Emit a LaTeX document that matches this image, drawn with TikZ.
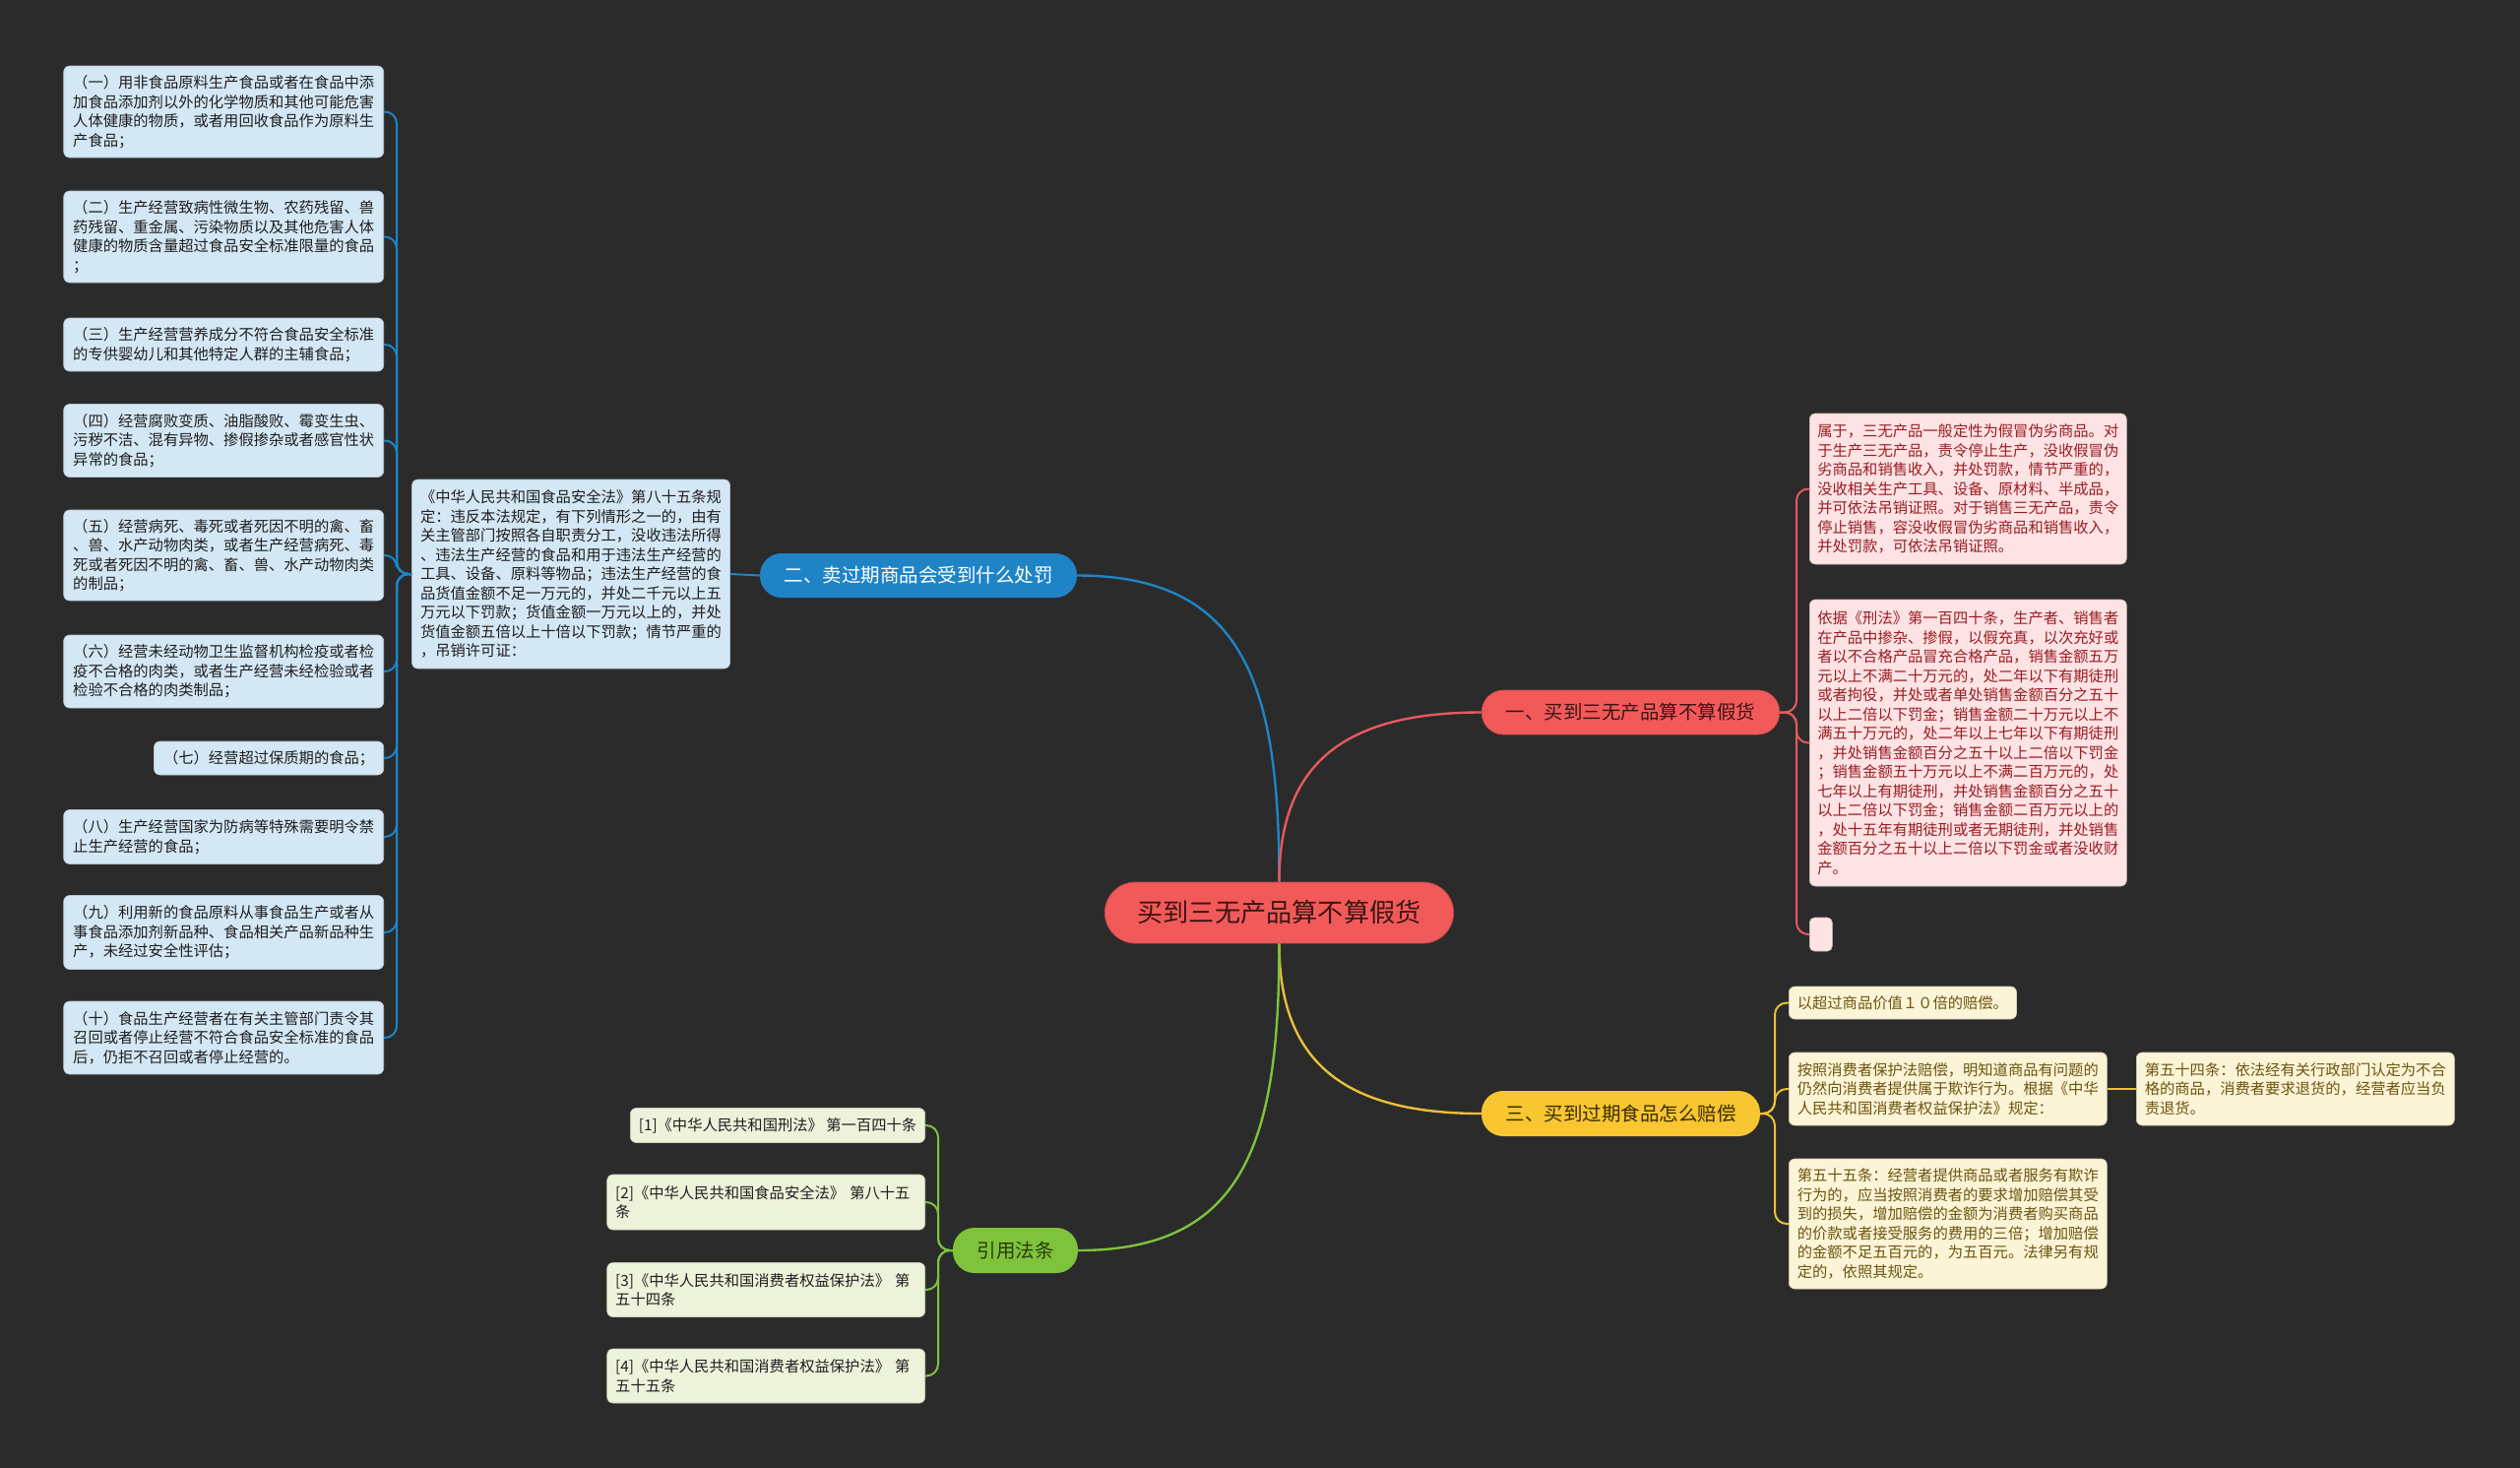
\documentclass[tikz,border=0pt]{standalone}
\usepackage{fontspec}
\setmainfont{Noto Sans CJK SC}
\definecolor{bg}{HTML}{2B2B2B}
\definecolor{cblue}{HTML}{1F84C6}
\definecolor{cbluefill}{HTML}{D4E7F5}
\definecolor{cred}{HTML}{F25A5A}
\definecolor{credline}{HTML}{E65A5E}
\definecolor{credfill}{HTML}{FDE3E3}
\definecolor{credtext}{HTML}{9B1C24}
\definecolor{credtitle}{HTML}{3E1414}
\definecolor{cyel}{HTML}{F7C631}
\definecolor{cyelline}{HTML}{EBC03A}
\definecolor{cyelfill}{HTML}{FCF4D6}
\definecolor{cyeltext}{HTML}{6B5410}
\definecolor{cyeltitle}{HTML}{3A2C00}
\definecolor{cgreen}{HTML}{7FC23B}
\definecolor{cgreenfill}{HTML}{EDF3DA}
\definecolor{cgreentitle}{HTML}{243A0C}
\definecolor{darktext}{HTML}{1E1E1E}
\begin{document}
\begin{tikzpicture}[x=1pt,y=-1pt,
  box/.style={rounded corners=6pt, inner xsep=9.5pt, inner ysep=3pt,
    font=\fontsize{15.3}{19.5}\selectfont, align=left},
  bluebox/.style={box, fill=cbluefill, text=darktext, draw=cbluefill!85!black, line width=0.6pt, anchor=east},
  redbox/.style={box, fill=credfill, text=credtext, draw=credfill!85!black, line width=0.6pt, inner xsep=8pt, anchor=west},
  yelbox/.style={box, fill=cyelfill, text=cyeltext, draw=cyelfill!85!black, line width=0.6pt, inner xsep=8.5pt, anchor=west},
  grnbox/.style={box, fill=cgreenfill, text=darktext, draw=cgreenfill!85!black, line width=0.6pt, inner xsep=8.5pt, anchor=east},
  branch/.style={rounded corners=22pt, inner xsep=24.5pt, inner ysep=3pt, minimum height=45pt,
    font=\fontsize{19.5}{22}\selectfont},
  link/.style={line width=2pt, rounded corners=12pt},
  mainlink/.style={line width=2.4pt}
]
\useasboundingbox (0,0) rectangle (2560,1491);
\fill[bg] (0,0) rectangle (2560,1491);

% ---------- center ----------
\node[rounded corners=31pt, fill=cred, draw=cred!80!black, line width=0.8pt, text=credtitle,
  inner xsep=33pt, inner ysep=3pt, minimum height=62pt,
  font=\fontsize{26.2}{30}\selectfont] (c) at (1299.5,927) {买到三无产品算不算假货};

% ---------- branches ----------
\node[branch, fill=cblue, text=white] (b2) at (933,584.5) {二、卖过期商品会受到什么处罚};
\node[branch, fill=cred, draw=cred!80!black, line width=0.6pt, text=credtitle] (b1) at (1656.5,723.5) {一、买到三无产品算不算假货};
\node[branch, fill=cyel, text=cyeltitle, minimum height=46pt] (b3) at (1646.5,1131) {三、买到过期食品怎么赔偿};
\node[branch, fill=cgreen, text=cgreentitle, minimum height=46pt] (b4) at (1031.5,1270) {引用法条};

% ---------- main links ----------
\draw[mainlink, cblue] (c.north) .. controls +(0,-200) and +(170,0) .. (b2.east);
\draw[mainlink, credline] (c.north) .. controls +(0,-120) and +(-140,0) .. (b1.west);
\draw[mainlink, cyelline] (c.south) .. controls +(0,120) and +(-140,0) .. (b3.west);
\draw[mainlink, cgreen] (c.south) .. controls +(0,200) and +(170,0) .. (b4.east);

% ---------- blue sub-tree ----------
\node[box, fill=cbluefill, text=darktext, draw=cbluefill!85!black, line width=0.6pt,
  text width=306pt, inner xsep=8.5pt, minimum height=192pt] (m) at (580,583) {《中华人民共和国食品安全法》第八十五条规\\定：违反本法规定，有下列情形之一的，由有\\关主管部门按照各自职责分工，没收违法所得\\、违法生产经营的食品和用于违法生产经营的\\工具、设备、原料等物品；违法生产经营的食\\品货值金额不足一万元的，并处二千元以上五\\万元以下罚款；货值金额一万元以上的，并处\\货值金额五倍以上十倍以下罚款；情节严重的\\，吊销许可证：};
\draw[link, cblue] (b2.west) -- (m.east);

\node[bluebox, text width=306pt, minimum height=93pt] (l1) at (390,113.5) {（一）用非食品原料生产食品或者在食品中添\\加食品添加剂以外的化学物质和其他可能危害\\人体健康的物质，或者用回收食品作为原料生\\产食品；};
\node[bluebox, text width=306pt, minimum height=93pt] (l2) at (390,240.5) {（二）生产经营致病性微生物、农药残留、兽\\药残留、重金属、污染物质以及其他危害人体\\健康的物质含量超过食品安全标准限量的食品\\；};
\node[bluebox, text width=306pt, minimum height=54pt] (l3) at (390,350) {（三）生产经营营养成分不符合食品安全标准\\的专供婴幼儿和其他特定人群的主辅食品；};
\node[bluebox, text width=306pt, minimum height=74pt] (l4) at (390,447.5) {（四）经营腐败变质、油脂酸败、霉变生虫、\\污秽不洁、混有异物、掺假掺杂或者感官性状\\异常的食品；};
\node[bluebox, text width=306pt, minimum height=92pt] (l5) at (390,564) {（五）经营病死、毒死或者死因不明的禽、畜\\、兽、水产动物肉类，或者生产经营病死、毒\\死或者死因不明的禽、畜、兽、水产动物肉类\\的制品；};
\node[bluebox, text width=306pt, minimum height=74pt] (l6) at (390,682) {（六）经营未经动物卫生监督机构检疫或者检\\疫不合格的肉类，或者生产经营未经检验或者\\检验不合格的肉类制品；};
\node[bluebox, minimum height=34pt] (l7) at (390,770) {（七）经营超过保质期的食品；};
\node[bluebox, text width=306pt, minimum height=55pt] (l8) at (390,850) {（八）生产经营国家为防病等特殊需要明令禁\\止生产经营的食品；};
\node[bluebox, text width=306pt, minimum height=75pt] (l9) at (390,947) {（九）利用新的食品原料从事食品生产或者从\\事食品添加剂新品种、食品相关产品新品种生\\产，未经过安全性评估；};
\node[bluebox, text width=306pt, minimum height=74pt] (l10) at (390,1054) {（十）食品生产经营者在有关主管部门责令其\\召回或者停止经营不符合食品安全标准的食品\\后，仍拒不召回或者停止经营的。};
\foreach \n in {l1,l2,l3,l4,l5,l6,l7,l8,l9,l10}
  \draw[link, cblue] (m.west) -- (403,583) |- (\n.east);

% ---------- red sub-tree ----------
\node[redbox, text width=306pt, minimum height=153pt] (r1) at (1838,496.5) {属于，三无产品一般定性为假冒伪劣商品。对\\于生产三无产品，责令停止生产，没收假冒伪\\劣商品和销售收入，并处罚款，情节严重的，\\没收相关生产工具、设备、原材料、半成品，\\并可依法吊销证照。对于销售三无产品，责令\\停止销售，容没收假冒伪劣商品和销售收入，\\并处罚款，可依法吊销证照。};
\node[redbox, text width=306pt, minimum height=291pt] (r2) at (1838,754.5) {依据《刑法》第一百四十条，生产者、销售者\\在产品中掺杂、掺假，以假充真，以次充好或\\者以不合格产品冒充合格产品，销售金额五万\\元以上不满二十万元的，处二年以下有期徒刑\\或者拘役，并处或者单处销售金额百分之五十\\以上二倍以下罚金；销售金额二十万元以上不\\满五十万元的，处二年以上七年以下有期徒刑\\，并处销售金额百分之五十以上二倍以下罚金\\；销售金额五十万元以上不满二百万元的，处\\七年以上有期徒刑，并处销售金额百分之五十\\以上二倍以下罚金；销售金额二百万元以上的\\，处十五年有期徒刑或者无期徒刑，并处销售\\金额百分之五十以上二倍以下罚金或者没收财\\产。};
\node[redbox, inner xsep=0pt, minimum width=23pt, minimum height=34pt, rounded corners=5pt] (r3) at (1838,949) {};
\foreach \n in {r1,r2,r3}
  \draw[link, credline] (b1.east) -- (1825,723.5) |- (\n.west);

% ---------- yellow sub-tree ----------
\node[yelbox, minimum height=33pt] (y1) at (1817,1018.5) {以超过商品价值１０倍的赔偿。};
\node[yelbox, text width=306pt, minimum height=74pt] (y2) at (1817,1106) {按照消费者保护法赔偿，明知道商品有问题的\\仍然向消费者提供属于欺诈行为。根据《中华\\人民共和国消费者权益保护法》规定：};
\node[yelbox, text width=306pt, minimum height=132pt] (y3) at (1817,1243) {第五十五条：经营者提供商品或者服务有欺诈\\行为的，应当按照消费者的要求增加赔偿其受\\到的损失，增加赔偿的金额为消费者购买商品\\的价款或者接受服务的费用的三倍；增加赔偿\\的金额不足五百元的，为五百元。法律另有规\\定的，依照其规定。};
\node[yelbox, text width=306pt, minimum height=74pt] (y4) at (2170,1106) {第五十四条：依法经有关行政部门认定为不合\\格的商品，消费者要求退货的，经营者应当负\\责退货。};
\foreach \n in {y1,y2,y3}
  \draw[link, cyelline] (b3.east) -- (1803,1131) |- (\n.west);
\draw[link, cyelline] (y2.east) -- (y4.west);

% ---------- green sub-tree ----------
\node[grnbox, minimum height=35pt] (g1) at (940,1143) {[1]《中华人民共和国刑法》 第一百四十条};
\node[grnbox, text width=306pt, minimum height=56pt] (g2) at (940,1221) {[2]《中华人民共和国食品安全法》 第八十五\\条};
\node[grnbox, text width=306pt, minimum height=55pt] (g3) at (940,1310) {[3]《中华人民共和国消费者权益保护法》 第\\五十四条};
\node[grnbox, text width=306pt, minimum height=55pt] (g4) at (940,1397.5) {[4]《中华人民共和国消费者权益保护法》 第\\五十五条};
\foreach \n in {g1,g2,g3,g4}
  \draw[link, cgreen] (b4.west) -- (953,1270) |- (\n.east);
\end{tikzpicture}
\end{document}
